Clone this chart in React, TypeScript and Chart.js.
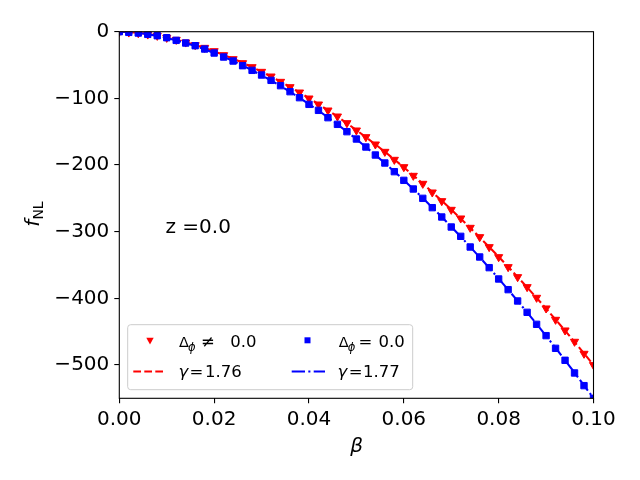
import React, { useEffect, useRef } from 'react';
import { Chart, registerables } from 'chart.js';

Chart.register(...registerables);

const beta = [
  0, 0.002, 0.004, 0.006, 0.008, 0.01, 0.012, 0.014, 0.016, 0.018,
  0.02, 0.022, 0.024, 0.026, 0.028, 0.03, 0.032, 0.034, 0.036, 0.038,
  0.04, 0.042, 0.044, 0.046, 0.048, 0.05, 0.052, 0.054, 0.056, 0.058,
  0.06, 0.062, 0.064, 0.066, 0.068, 0.07, 0.072, 0.074, 0.076, 0.078,
  0.08, 0.082, 0.084, 0.086, 0.088, 0.09, 0.092, 0.094, 0.096, 0.098, 0.1,
];

// Δφ ≠ 0.0 (red triangles)
const fRedPoints = [
  0, -1, -2, -4, -6, -9, -12, -16, -20, -24,
  -29, -35, -41, -47, -53, -60, -67, -75, -83, -91,
  -100, -109, -118, -127, -137, -148, -158, -169, -180, -192,
  -203, -216, -228, -241, -254, -267, -280, -294, -308, -323,
  -338, -353, -368, -383, -399, -415, -432, -448, -465, -483, -500,
];

// Δφ = 0.0 (blue squares)
const fBluePoints = [
  0, -1, -2, -4, -6, -9, -13, -17, -21, -26,
  -32, -38, -44, -51, -58, -65, -73, -81, -90, -99,
  -109, -118, -129, -139, -150, -161, -173, -185, -197, -210,
  -223, -236, -250, -264, -278, -293, -307, -323, -338, -354,
  -371, -387, -404, -421, -439, -456, -475, -493, -512, -531, -550,
];

// fit γ = 1.76 (red dashed)
const fRedFit = [
  0, -0.5, -1.7, -3.5, -5.9, -8.7, -12.0, -15.7, -19.9, -24.5,
  -29.4, -34.8, -40.6, -46.7, -53.2, -60.1, -67.3, -74.9, -82.8, -91.1,
  -99.7, -108.6, -117.9, -127.5, -137.4, -147.6, -158.2, -169.0, -180.2, -191.7,
  -203.5, -215.6, -228.0, -240.7, -253.6, -266.9, -280.5, -294.3, -308.5, -322.9,
  -337.6, -352.6, -367.9, -383.4, -399.3, -415.4, -431.8, -448.4, -465.4, -482.6, -500.0,
];

// fit γ = 1.77 (blue dash-dot)
const fBlueFit = [
  0, -0.5, -1.8, -3.8, -6.3, -9.3, -12.9, -16.9, -21.5, -26.4,
  -31.9, -37.7, -44.0, -50.7, -57.8, -65.3, -73.2, -81.5, -90.2, -99.2,
  -108.7, -118.4, -128.6, -139.1, -150.0, -161.3, -172.9, -184.8, -197.1, -209.7,
  -222.7, -236.0, -249.6, -263.6, -277.9, -292.5, -307.5, -322.8, -338.4, -354.3,
  -370.5, -387.1, -403.9, -421.1, -438.6, -456.4, -474.5, -492.9, -511.6, -530.7, -549.8,
];

const xTicks = [0, 0.02, 0.04, 0.06, 0.08, 0.1];
const yTicks = [-500, -400, -300, -200, -100, 0];

const RED = '#ff0000';
const BLUE = '#0000ff';
const FONT = 'DejaVu Sans';

const toXY = (ys: number[]) => beta.map((b, i) => ({ x: b, y: ys[i] }));

const overlay = {
  id: 'overlay',
  afterDraw(chart: any) {
    const { ctx, chartArea: a } = chart;
    ctx.save();
    // frame (spines)
    ctx.strokeStyle = '#000';
    ctx.lineWidth = 1.1;
    ctx.setLineDash([]);
    ctx.strokeRect(a.left, a.top, a.right - a.left, a.bottom - a.top);

    // legend box
    const bx = 127.7, by = 324.7, bw = 412.7 - 127.7, bh = 389.7 - 324.7, r = 3;
    ctx.beginPath();
    ctx.moveTo(bx + r, by);
    ctx.lineTo(bx + bw - r, by);
    ctx.quadraticCurveTo(bx + bw, by, bx + bw, by + r);
    ctx.lineTo(bx + bw, by + bh - r);
    ctx.quadraticCurveTo(bx + bw, by + bh, bx + bw - r, by + bh);
    ctx.lineTo(bx + r, by + bh);
    ctx.quadraticCurveTo(bx, by + bh, bx, by + bh - r);
    ctx.lineTo(bx, by + r);
    ctx.quadraticCurveTo(bx, by, bx + r, by);
    ctx.closePath();
    ctx.fillStyle = 'rgba(255,255,255,0.8)';
    ctx.fill();
    ctx.strokeStyle = '#cccccc';
    ctx.lineWidth = 1;
    ctx.stroke();

    // legend markers
    ctx.fillStyle = RED;
    ctx.beginPath();
    ctx.moveTo(146.3, 337.8);
    ctx.lineTo(153.7, 337.8);
    ctx.lineTo(150, 344.4);
    ctx.closePath();
    ctx.fill();
    ctx.fillStyle = BLUE;
    ctx.fillRect(304.5, 337.3, 6, 6);

    // legend lines
    ctx.lineWidth = 2.1;
    ctx.strokeStyle = RED;
    ctx.setLineDash([7.7, 3.3]);
    ctx.beginPath();
    ctx.moveTo(133.3, 371.5);
    ctx.lineTo(164.3, 371.5);
    ctx.stroke();
    ctx.strokeStyle = BLUE;
    ctx.setLineDash([13.3, 3.3, 2.1, 3.3]);
    ctx.beginPath();
    ctx.moveTo(291.7, 371.5);
    ctx.lineTo(325, 371.5);
    ctx.stroke();
    ctx.setLineDash([]);

    // legend texts
    ctx.fillStyle = '#000';
    ctx.textBaseline = 'alphabetic';
    ctx.textAlign = 'left';
    const fs = 16.5;
    const main = `${fs}px "${FONT}"`;
    const delta = `14.5px "${FONT}"`;
    const sub = `italic 11.5px "${FONT}"`;
    const ital = `italic ${fs}px "${FONT}"`;
    // row 1, col 1: Δφ ≠ 0.0
    ctx.font = delta;
    ctx.fillText('Δ', 179, 347);
    ctx.font = sub;
    ctx.fillText('ϕ', 188, 350.5);
    ctx.font = main;
    ctx.fillText('≠', 201, 347);
    ctx.fillText('0.0', 230.3, 347);
    // row 1, col 2: Δφ = 0.0
    ctx.font = delta;
    ctx.fillText('Δ', 338.8, 347);
    ctx.font = sub;
    ctx.fillText('ϕ', 347.8, 350.5);
    ctx.font = main;
    ctx.fillText('=', 358.5, 347);
    ctx.fillText('0.0', 378.6, 347);
    // row 2, col 1: γ = 1.76
    ctx.font = ital;
    ctx.fillText('γ', 178.5, 377);
    ctx.font = main;
    ctx.fillText('=', 189.5, 377);
    ctx.fillText('1.76', 205, 377);
    // row 2, col 2: γ = 1.77
    ctx.font = ital;
    ctx.fillText('γ', 337.5, 377);
    ctx.font = main;
    ctx.fillText('=', 348.7, 377);
    ctx.fillText('1.77', 363, 377);

    // annotation
    ctx.font = `20px "${FONT}"`;
    ctx.fillText('z =0.0', 165.5, 233);

    // x label
    ctx.font = `italic 20px "${FONT}"`;
    ctx.textAlign = 'center';
    ctx.fillText('β', 356.7, 452);

    // y label f_NL
    ctx.save();
    ctx.translate(38.5, 214);
    ctx.rotate(-Math.PI / 2);
    ctx.textAlign = 'left';
    ctx.font = `italic 20px "${FONT}"`;
    const wf = ctx.measureText('f').width;
    ctx.font = `14px "${FONT}"`;
    const wn = ctx.measureText('NL').width;
    const sx = -(wf + wn) / 2;
    ctx.font = `italic 20px "${FONT}"`;
    ctx.fillText('f', sx, 0);
    ctx.font = `14px "${FONT}"`;
    ctx.fillText('NL', sx + wf, 4.5);
    ctx.restore();

    ctx.restore();
  },
};

export default function App() {
  const ref = useRef<HTMLCanvasElement>(null);
  useEffect(() => {
    document.body.style.margin = '0';
    const tickFont = { family: FONT, size: 20 };
    const chart = new Chart(ref.current as HTMLCanvasElement, {
      type: 'scatter',
      data: {
        datasets: [
          {
            label: 'Δφ ≠ 0.0',
            data: toXY(fRedPoints),
            pointStyle: 'triangle',
            rotation: 180,
            pointRadius: 4.7,
            backgroundColor: RED,
            borderColor: RED,
            borderWidth: 1,
            showLine: false,
            clip: 0,
            order: 4,
          },
          {
            label: 'γ = 1.76',
            data: toXY(fRedFit),
            showLine: true,
            borderColor: RED,
            borderWidth: 2.1,
            borderDash: [7.7, 3.3],
            pointRadius: 0,
            fill: false,
            clip: 0,
            order: 3,
          },
          {
            label: 'Δφ = 0.0',
            data: toXY(fBluePoints),
            pointStyle: 'rect',
            pointRadius: 4.5,
            backgroundColor: BLUE,
            borderColor: BLUE,
            borderWidth: 1,
            showLine: false,
            clip: 0,
            order: 2,
          },
          {
            label: 'γ = 1.77',
            data: toXY(fBlueFit),
            showLine: true,
            borderColor: BLUE,
            borderWidth: 2.1,
            borderDash: [13.3, 3.3, 2.1, 3.3],
            pointRadius: 0,
            fill: false,
            clip: 0,
            order: 1,
          },
        ] as any,
      },
      options: {
        animation: false,
        responsive: false,
        devicePixelRatio: 1,
        events: [],
        layout: { padding: { left: 0, top: 31.7, right: 46.5, bottom: 0 } },
        plugins: { legend: { display: false }, tooltip: { enabled: false } },
        scales: {
          x: {
            type: 'linear',
            min: 0,
            max: 0.1,
            afterBuildTicks: (s: any) => {
              s.ticks = xTicks.map((v) => ({ value: v }));
            },
            afterFit: (s: any) => {
              s.height = 480 - 398.3;
            },
            ticks: {
              autoSkip: false,
              maxRotation: 0,
              padding: 4,
              color: '#000',
              font: tickFont,
              callback: (v: any) => Number(v).toFixed(2),
            },
            grid: {
              display: true,
              drawOnChartArea: false,
              drawTicks: true,
              tickLength: 5,
              color: '#000',
              lineWidth: 1.1,
            },
            border: { display: false },
          },
          y: {
            type: 'linear',
            min: -550,
            max: 0,
            afterBuildTicks: (s: any) => {
              s.ticks = yTicks.map((v) => ({ value: v }));
            },
            afterFit: (s: any) => {
              s.width = 119.3;
            },
            ticks: {
              autoSkip: false,
              padding: 5,
              color: '#000',
              font: tickFont,
              callback: (v: any) => (Number(v) < 0 ? '\u2212' + Math.abs(Number(v)) : String(v)),
            },
            grid: {
              display: true,
              drawOnChartArea: false,
              drawTicks: true,
              tickLength: 5,
              color: '#000',
              lineWidth: 1.1,
            },
            border: { display: false },
          },
        },
      } as any,
      plugins: [overlay],
    });
    return () => chart.destroy();
  }, []);
  return (
    <div style={{ position: 'relative', width: 640, height: 480 }}>
      <canvas ref={ref} width={640} height={480} style={{ display: 'block', width: 640, height: 480 }} />
    </div>
  );
}
